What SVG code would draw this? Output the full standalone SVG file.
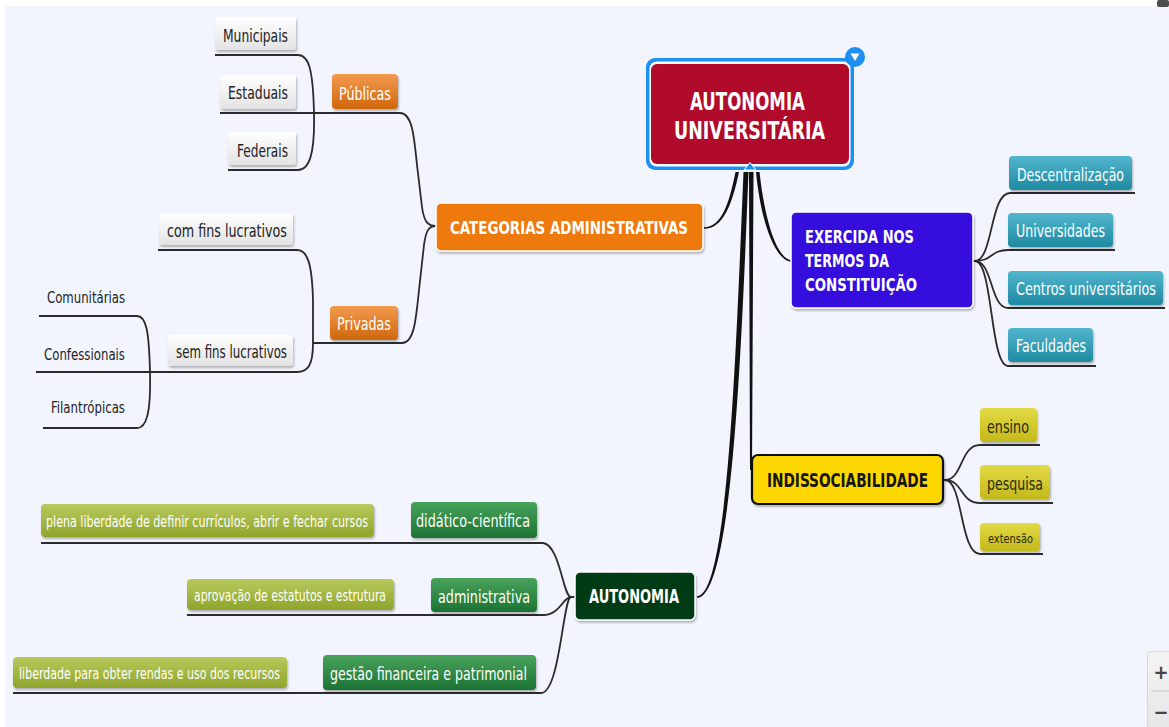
<svg xmlns="http://www.w3.org/2000/svg" width="1169" height="727" viewBox="0 0 1169 727">
<defs>
  <linearGradient id="gGray" x1="0" y1="0" x2="0" y2="1"><stop offset="0" stop-color="#ffffff"/><stop offset="1" stop-color="#e3e3e3"/></linearGradient>
  <linearGradient id="gOrange" x1="0" y1="0" x2="0" y2="1"><stop offset="0" stop-color="#f39b50"/><stop offset="1" stop-color="#cf660c"/></linearGradient>
  <linearGradient id="gTeal" x1="0" y1="0" x2="0" y2="1"><stop offset="0" stop-color="#52b6cd"/><stop offset="1" stop-color="#1f8aa2"/></linearGradient>
  <linearGradient id="gYel" x1="0" y1="0" x2="0" y2="1"><stop offset="0" stop-color="#e2da45"/><stop offset="1" stop-color="#c4b91b"/></linearGradient>
  <linearGradient id="gGreen" x1="0" y1="0" x2="0" y2="1"><stop offset="0" stop-color="#48a35c"/><stop offset="1" stop-color="#1c7233"/></linearGradient>
  <linearGradient id="gOlive" x1="0" y1="0" x2="0" y2="1"><stop offset="0" stop-color="#b9c95c"/><stop offset="1" stop-color="#8fa52b"/></linearGradient>
  <linearGradient id="gCtl" x1="0" y1="0" x2="0" y2="1"><stop offset="0" stop-color="#f4f4f4"/><stop offset="1" stop-color="#e6e6e6"/></linearGradient>
  <filter id="sh" x="-10%" y="-20%" width="120%" height="150%"><feDropShadow dx="1" dy="2" stdDeviation="1.3" flood-color="#000" flood-opacity="0.28"/></filter>
</defs>
<style>
  .t{font-family:"DejaVu Sans Condensed","DejaVu Sans",sans-serif}
  .b{font-weight:bold}
  .w{fill:#ffffff}
  .d{fill:#222222}
  .ln{fill:none;stroke:#2b2b2b;stroke-width:1.8}
  .tap{fill:#111111}
  .gray{fill:url(#gGray);filter:url(#sh)}
  .org{fill:url(#gOrange);filter:url(#sh)}
  .teal{fill:url(#gTeal);filter:url(#sh)}
  .yel{fill:url(#gYel);filter:url(#sh)}
  .grn{fill:url(#gGreen);filter:url(#sh)}
  .olv{fill:url(#gOlive);filter:url(#sh)}
  .wb{stroke:#ffffff;stroke-width:1.5;filter:url(#sh)}
</style>
<rect x="0" y="0" width="1169" height="727" fill="#f2f5fd"/>
<rect x="0" y="0" width="1169" height="6" fill="#ffffff"/>
<rect x="0" y="0" width="5" height="727" fill="#ffffff"/>
<rect x="1157" y="0" width="12" height="7" rx="2" fill="#4a4f4a"/>

<g id="connectors">
  <path class="tap" d="M735.5,172 C729,205 721,227.2 704,227.2 L704,228.8 C723,228.8 732,205 739,172 Z"/>
  <path class="tap" d="M756,172 C761,223 775,260 791,261.8 L791,260.2 C777,258 765,222 759.5,172 Z"/>
  <path class="tap" d="M743.5,172 C736,350 728,596.2 697,596.2 L697,597.8 C732,597.8 741.5,350 748.5,172 Z"/>
  <path class="tap" d="M749,172 L750,470 L752,470 L753.5,172 Z"/>
  <path class="ln" d="M400,113 C412,113 414,135 417,165 L422,207 C424,222 428,226 436,226"/>
  <path class="ln" d="M402,343 C414,343 416,320 419,290 L424,245 C426,230 429,226 436,226"/>
  <path class="ln" d="M220,113 L400,113"/>
  <path class="ln" d="M215,55 L298,55 C309,55 313,70 314,113 C315,155 309,170 298,170 L228,170"/>
  <path class="ln" d="M313,343 L402,343"/>
  <path class="ln" d="M158,250 L297,250 C308,250 312,265 313,300 L313,343 C313,365 308,372 297,372 L36,372"/>
  <path class="ln" d="M39,316 L137,316 C146,316 149,330 150,372 C151,415 146,428 137,428 L43,428"/>
  <path class="ln" d="M973,261 L975,261 C993,261 990,193 1010,193 L1135,193"/>
  <path class="ln" d="M975,261 C993,261 990,250 1008,250 L1115,250"/>
  <path class="ln" d="M975,261 C993,261 990,308 1008,308 L1165,308"/>
  <path class="ln" d="M975,261 C993,261 990,366 1008,366 L1096,366"/>
  <path class="ln" d="M943,480 L945,480 C963,480 960,445 980,445 L1040,445"/>
  <path class="ln" d="M945,480 C963,480 960,503 980,503 L1053,503"/>
  <path class="ln" d="M945,480 C963,480 960,554 980,554 L1043,554"/>
  <path class="ln" d="M575,597 L571,597 C563,597 560,545 543,543 L41,543"/>
  <path class="ln" d="M571,597 C563,597 560,615 543,615 L187,615"/>
  <path class="ln" d="M571,597 C563,597 560,693 541,693 L13,693"/>
</g>

<g id="central">
  <rect x="646" y="58" width="208" height="112" rx="9" fill="#1e90f2"/>
  <rect x="649.5" y="61.5" width="201" height="105" rx="7" fill="#ffffff"/>
  <rect x="651" y="64" width="198" height="100" rx="6" fill="#b10b2c"/>
  <polygon points="744,170 756,170 750,162.5" fill="#1e90f2" stroke="#ffffff" stroke-width="1"/>
  <circle cx="855" cy="57" r="10" fill="#1e90f2"/>
  <polygon points="850.5,53.5 859.5,53.5 855,61" fill="#ffffff"/>
  <text class="t b w" x="690" y="110" font-size="25" textLength="115" lengthAdjust="spacingAndGlyphs">AUTONOMIA</text>
  <text class="t b w" x="674" y="139" font-size="25" textLength="151" lengthAdjust="spacingAndGlyphs">UNIVERSITÁRIA</text>
</g>

<g id="categorias">
  <rect x="436" y="203" width="267" height="48" rx="5" fill="#ee790f" class="wb"/>
  <text class="t b w" x="450" y="234" font-size="18" textLength="238" lengthAdjust="spacingAndGlyphs">CATEGORIAS ADMINISTRATIVAS</text>
</g>
<g id="publicas">
  <rect x="332" y="74" width="66" height="35" rx="4" class="org"/>
  <text class="t w" x="339" y="100" font-size="17" textLength="52" lengthAdjust="spacingAndGlyphs">Públicas</text>
</g>
<g id="municipais">
  <rect x="215" y="17" width="81" height="33" rx="3" class="gray"/>
  <text class="t d" x="223" y="42" font-size="17" textLength="65" lengthAdjust="spacingAndGlyphs">Municipais</text>
</g>
<g id="estaduais">
  <rect x="220" y="75" width="76" height="34" rx="3" class="gray"/>
  <text class="t d" x="228" y="99" font-size="17" textLength="60" lengthAdjust="spacingAndGlyphs">Estaduais</text>
</g>
<g id="federais">
  <rect x="228" y="132" width="68" height="33" rx="3" class="gray"/>
  <text class="t d" x="237" y="157" font-size="17" textLength="51" lengthAdjust="spacingAndGlyphs">Federais</text>
</g>
<g id="privadas">
  <rect x="330" y="306" width="68" height="34" rx="4" class="org"/>
  <text class="t w" x="337" y="330" font-size="17" textLength="54" lengthAdjust="spacingAndGlyphs">Privadas</text>
</g>
<g id="com-fins">
  <rect x="159" y="213" width="134" height="32" rx="3" class="gray"/>
  <text class="t d" x="167" y="237" font-size="17" textLength="120" lengthAdjust="spacingAndGlyphs">com fins lucrativos</text>
</g>
<g id="sem-fins">
  <rect x="168" y="335" width="125" height="31" rx="3" class="gray"/>
  <text class="t d" x="176" y="358" font-size="17" textLength="111" lengthAdjust="spacingAndGlyphs">sem fins lucrativos</text>
</g>
<g id="comunitarias">
  <text class="t d" x="47" y="303" font-size="16" textLength="78" lengthAdjust="spacingAndGlyphs">Comunitárias</text>
</g>
<g id="confessionais">
  <text class="t d" x="44" y="360" font-size="16" textLength="81" lengthAdjust="spacingAndGlyphs">Confessionais</text>
</g>
<g id="filantropicas">
  <text class="t d" x="51" y="413" font-size="16" textLength="74" lengthAdjust="spacingAndGlyphs">Filantrópicas</text>
</g>

<g id="exercida">
  <rect x="791" y="212" width="182" height="96" rx="5" fill="#3410dc" class="wb"/>
  <text class="t b w" x="805" y="243" font-size="18" textLength="109" lengthAdjust="spacingAndGlyphs">EXERCIDA NOS</text>
  <text class="t b w" x="805" y="267" font-size="18" textLength="84" lengthAdjust="spacingAndGlyphs">TERMOS DA</text>
  <text class="t b w" x="805" y="291" font-size="18" textLength="112" lengthAdjust="spacingAndGlyphs">CONSTITUIÇÃO</text>
</g>
<g id="descentralizacao">
  <rect x="1009" y="156" width="123" height="34" rx="4" class="teal"/>
  <text class="t w" x="1017" y="181" font-size="17" textLength="107" lengthAdjust="spacingAndGlyphs">Descentralização</text>
</g>
<g id="universidades">
  <rect x="1008" y="213" width="105" height="34" rx="4" class="teal"/>
  <text class="t w" x="1016" y="237" font-size="17" textLength="89" lengthAdjust="spacingAndGlyphs">Universidades</text>
</g>
<g id="centros">
  <rect x="1008" y="271" width="155" height="34" rx="4" class="teal"/>
  <text class="t w" transform="translate(1016,295) scale(0.75,1)" x="0" y="0" font-size="17" textLength="186.7" lengthAdjust="spacingAndGlyphs">Centros universitários</text>
</g>
<g id="faculdades">
  <rect x="1008" y="328" width="85" height="34" rx="4" class="teal"/>
  <text class="t w" x="1016" y="352" font-size="17" textLength="70" lengthAdjust="spacingAndGlyphs">Faculdades</text>
</g>

<g id="indissociabilidade">
  <rect x="752" y="455" width="191" height="49" rx="6" fill="#ffd700" stroke="#111111" stroke-width="2.2" filter="url(#sh)"/>
  <text class="t b" fill="#151515" x="767" y="487" font-size="19" textLength="161" lengthAdjust="spacingAndGlyphs">INDISSOCIABILIDADE</text>
</g>
<g id="ensino">
  <rect x="980" y="408" width="57" height="34" rx="4" class="yel"/>
  <text class="t" fill="#2a2a10" x="987" y="433" font-size="17" textLength="42" lengthAdjust="spacingAndGlyphs">ensino</text>
</g>
<g id="pesquisa">
  <rect x="980" y="465" width="70" height="34" rx="4" class="yel"/>
  <text class="t" fill="#2a2a10" x="987" y="490" font-size="17" textLength="56" lengthAdjust="spacingAndGlyphs">pesquisa</text>
</g>
<g id="extensao">
  <rect x="980" y="523" width="60" height="28" rx="4" class="yel"/>
  <text class="t" fill="#2a2a10" x="988" y="543" font-size="13" textLength="45" lengthAdjust="spacingAndGlyphs">extensão</text>
</g>

<g id="autonomia">
  <rect x="575" y="572" width="120" height="48" rx="5" fill="#053a13" class="wb"/>
  <text class="t b w" x="589" y="603" font-size="19" textLength="90" lengthAdjust="spacingAndGlyphs">AUTONOMIA</text>
</g>
<g id="didatico">
  <rect x="411" y="502" width="126" height="36" rx="4" class="grn"/>
  <text class="t w" x="416" y="527" font-size="17" textLength="114" lengthAdjust="spacingAndGlyphs">didático-científica</text>
</g>
<g id="plena">
  <rect x="41" y="504" width="333" height="33" rx="4" class="olv"/>
  <text class="t w" transform="translate(46,527) scale(0.75,1)" x="0" y="0" font-size="16" textLength="429.3" lengthAdjust="spacingAndGlyphs">plena liberdade de definir currículos, abrir e fechar cursos</text>
</g>
<g id="administrativa">
  <rect x="431" y="578" width="106" height="34" rx="4" class="grn"/>
  <text class="t w" x="438" y="603" font-size="17" textLength="92" lengthAdjust="spacingAndGlyphs">administrativa</text>
</g>
<g id="aprovacao">
  <rect x="187" y="579" width="207" height="31" rx="4" class="olv"/>
  <text class="t w" x="194" y="601" font-size="15" textLength="192" lengthAdjust="spacingAndGlyphs">aprovação de estatutos e estrutura</text>
</g>
<g id="gestao">
  <rect x="323" y="655" width="213" height="35" rx="4" class="grn"/>
  <text class="t w" x="330" y="680" font-size="17" textLength="197" lengthAdjust="spacingAndGlyphs">gestão financeira e patrimonial</text>
</g>
<g id="liberdade">
  <rect x="13" y="657" width="274" height="31" rx="4" class="olv"/>
  <text class="t w" x="19" y="679" font-size="15" textLength="261" lengthAdjust="spacingAndGlyphs">liberdade para obter rendas e uso dos recursos</text>
</g>

<g id="zoom-controls">
  <rect x="1147.5" y="651.5" width="24" height="80" rx="3" fill="url(#gCtl)" stroke="#d8d8d8" stroke-width="1"/>
  <line x1="1151" y1="691" x2="1169" y2="691" stroke="#c8c8c8" stroke-width="1"/>
  <text class="t b" fill="#444444" x="1161" y="679" font-size="20" text-anchor="middle">+</text>
  <text class="t b" fill="#444444" x="1161" y="719" font-size="20" text-anchor="middle">−</text>
</g>
</svg>
